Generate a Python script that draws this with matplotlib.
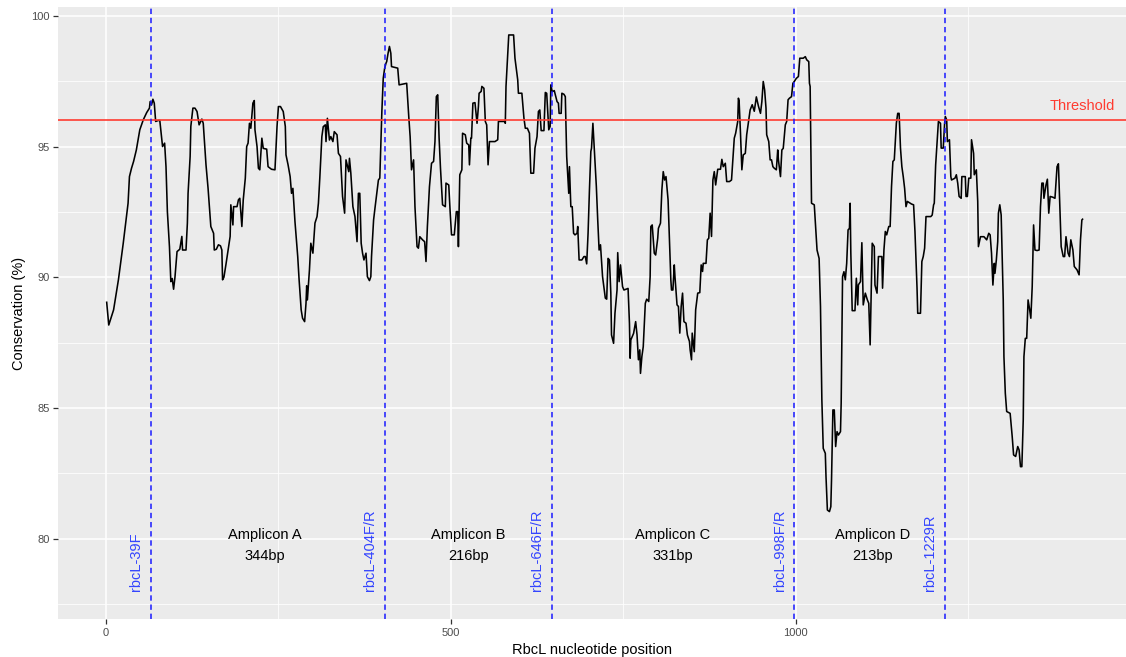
import matplotlib
matplotlib.use("Agg")
import matplotlib.pyplot as plt

plt.rcParams['font.family'] = ['Liberation Sans', 'DejaVu Sans']

# conservation profile along rbcL
position = [
    1, 4, 11, 18, 25, 32, 34, 37, 40, 44, 49, 54, 59, 63, 64, 66, 68, 70, 72, 76,
    78, 81, 82, 85, 87, 89, 92, 94, 96, 98, 100, 103, 107, 110, 111, 116, 118, 119, 122, 123,
    126, 129, 132, 135, 139, 141, 145, 148, 152, 154, 156, 157, 160, 163, 166, 168, 169, 171, 174, 177,
    180, 181, 184, 185, 190, 192, 194, 197, 199, 202, 204, 206, 208, 210, 213, 215, 216, 219, 221, 223,
    226, 228, 233, 235, 240, 245, 248, 250, 253, 257, 260, 261, 264, 267, 269, 271, 274, 278, 280, 283,
    285, 288, 290, 291, 292, 295, 297, 300, 303, 306, 308, 310, 313, 315, 318, 319, 321, 324, 326, 329,
    331, 335, 337, 340, 343, 346, 348, 352, 353, 355, 358, 361, 364, 366, 368, 370, 372, 374, 377, 379,
    382, 384, 385, 388, 390, 395, 397, 400, 402, 404, 406, 407, 409, 411, 413, 414, 423, 425, 436, 439,
    441, 443, 446, 448, 451, 453, 455, 459, 462, 464, 466, 469, 472, 475, 477, 479, 481, 483, 485, 488,
    492, 493, 497, 499, 501, 505, 508, 510, 511, 513, 516, 517, 521, 523, 526, 527, 529, 530, 532, 535,
    538, 540, 541, 544, 545, 548, 550, 552, 554, 556, 564, 568, 569, 578, 579, 580, 582, 584, 591, 593,
    597, 598, 603, 606, 608, 611, 614, 616, 620, 622, 625, 627, 629, 631, 635, 637, 639, 642, 644, 645,
    647, 650, 654, 656, 657, 660, 661, 664, 666, 668, 671, 672, 674, 676, 678, 680, 683, 684, 686, 690,
    693, 695, 697, 699, 701, 703, 704, 706, 708, 711, 713, 715, 717, 720, 724, 726, 728, 730, 732, 733,
    736, 738, 741, 742, 744, 746, 749, 751, 754, 757, 759, 760, 761, 765, 768, 770, 772, 774, 775, 777,
    779, 782, 784, 787, 789, 790, 792, 795, 797, 800, 801, 804, 806, 808, 810, 812, 815, 817, 819, 820,
    822, 824, 825, 828, 830, 832, 834, 836, 838, 841, 843, 846, 847, 849, 850, 853, 855, 858, 861, 863,
    865, 866, 870, 872, 874, 876, 878, 880, 882, 884, 887, 891, 893, 895, 898, 900, 904, 907, 909, 911,
    913, 916, 917, 918, 920, 922, 924, 927, 929, 932, 934, 937, 940, 943, 946, 949, 951, 953, 955, 957,
    958, 961, 963, 965, 967, 969, 972, 974, 975, 978, 980, 982, 985, 987, 989, 991, 994, 996, 998, 1001,
    1004, 1006, 1011, 1014, 1016, 1019, 1020, 1021, 1023, 1027, 1031, 1034, 1036, 1037, 1038, 1040, 1043, 1044, 1046, 1049,
    1051, 1052, 1054, 1056, 1058, 1060, 1062, 1065, 1066, 1068, 1070, 1072, 1074, 1076, 1078, 1079, 1080, 1082, 1086, 1088,
    1090, 1091, 1094, 1096, 1098, 1101, 1104, 1106, 1108, 1111, 1114, 1115, 1118, 1120, 1125, 1126, 1128, 1130, 1132, 1135,
    1137, 1139, 1141, 1143, 1146, 1148, 1150, 1152, 1154, 1156, 1158, 1160, 1162, 1166, 1168, 1171, 1173, 1176, 1177, 1181,
    1183, 1185, 1187, 1189, 1196, 1198, 1200, 1201, 1203, 1207, 1210, 1211, 1214, 1216, 1217, 1219, 1220, 1223, 1225, 1226,
    1231, 1233, 1235, 1237, 1240, 1241, 1246, 1247, 1249, 1251, 1254, 1255, 1258, 1259, 1262, 1264, 1265, 1268, 1273, 1277,
    1280, 1282, 1284, 1286, 1288, 1289, 1291, 1293, 1294, 1296, 1298, 1301, 1302, 1304, 1306, 1311, 1314, 1316, 1319, 1322,
    1324, 1326, 1328, 1330, 1331, 1333, 1335, 1337, 1339, 1341, 1343, 1345, 1347, 1350, 1353, 1355, 1357, 1359, 1360, 1363,
    1365, 1367, 1369, 1373, 1376, 1379, 1381, 1383, 1385, 1388, 1390, 1392, 1395, 1397, 1399, 1402, 1404, 1408, 1411, 1413,
    1415, 1416,
]
conservation = [
    89.04, 88.17, 88.75, 89.90, 91.30, 92.83, 93.85, 94.17, 94.43, 94.87, 95.64, 96.02, 96.30, 96.47, 96.72, 96.59, 96.81, 96.66, 95.96, 96.00,
    96.00, 95.25, 95.00, 95.13, 94.23, 92.51, 91.17, 89.83, 89.95, 89.54, 90.00, 90.98, 91.07, 91.56, 91.04, 91.04, 92.07, 93.21, 94.62, 95.77,
    96.47, 96.47, 96.34, 95.83, 96.05, 95.89, 94.30, 93.40, 91.94, 91.81, 91.68, 91.04, 91.07, 91.24, 91.20, 91.04, 89.90, 90.00, 90.50, 91.04,
    91.56, 92.77, 92.00, 92.70, 92.70, 92.96, 93.02, 91.94, 92.96, 93.79, 95.00, 95.13, 95.89, 95.70, 96.66, 96.76, 95.64, 95.00, 94.17, 94.11,
    95.32, 94.93, 94.90, 94.23, 94.13, 94.11, 95.77, 96.53, 96.53, 96.34, 95.77, 94.68, 94.30, 93.85, 93.21, 93.40, 92.13, 90.79, 89.90, 88.75,
    88.43, 88.30, 89.00, 89.67, 89.13, 90.28, 91.30, 90.92, 92.07, 92.32, 92.83, 93.79, 95.38, 95.76, 95.83, 95.19, 96.08, 95.25, 95.38, 95.19,
    95.57, 95.45, 94.74, 94.62, 93.09, 92.45, 94.49, 94.04, 94.55, 93.98, 92.70, 92.32, 91.36, 93.21, 93.21, 91.30, 90.92, 90.66, 90.92, 90.02,
    89.87, 90.02, 90.79, 92.19, 92.64, 93.72, 93.79, 96.34, 97.61, 97.99, 98.19, 98.25, 98.57, 98.83, 98.57, 98.06, 98.00, 97.36, 97.42, 96.15,
    95.38, 94.11, 94.49, 92.70, 91.17, 91.11, 91.55, 91.43, 91.36, 90.60, 91.94, 93.46, 94.36, 94.43, 95.19, 96.91, 96.98, 95.32, 94.17, 92.77,
    92.70, 93.60, 93.53, 92.51, 91.62, 91.62, 92.51, 92.51, 91.17, 93.92, 94.11, 95.51, 95.45, 95.13, 95.06, 94.30, 95.32, 95.32, 96.66, 96.68,
    95.89, 96.53, 97.04, 97.11, 97.30, 97.23, 95.96, 95.83, 94.30, 95.19, 95.19, 95.26, 95.96, 95.96, 95.89, 97.30, 98.25, 99.27, 99.27, 98.38,
    97.55, 97.04, 97.04, 96.09, 95.70, 95.70, 95.51, 93.98, 93.98, 94.94, 95.38, 96.34, 96.40, 95.61, 95.61, 97.07, 97.04, 95.64, 95.77, 97.36,
    97.10, 97.14, 96.72, 96.66, 96.27, 96.27, 97.04, 97.00, 96.91, 94.62, 93.21, 94.23, 92.70, 92.70, 91.68, 91.62, 91.68, 91.94, 90.66, 90.66,
    90.79, 90.79, 90.51, 91.68, 93.34, 94.81, 94.94, 95.89, 94.94, 93.47, 92.19, 91.04, 91.24, 90.02, 89.20, 89.16, 90.72, 90.66, 89.39, 87.79,
    87.47, 88.62, 89.51, 90.94, 89.83, 90.47, 89.64, 89.51, 89.54, 89.57, 88.24, 86.90, 87.60, 87.85, 88.30, 87.79, 86.84, 87.22, 86.32, 86.96,
    87.34, 89.00, 89.16, 89.07, 90.02, 91.94, 92.00, 90.92, 90.85, 91.49, 91.87, 92.07, 93.34, 94.04, 93.72, 93.85, 92.96, 91.43, 89.90, 89.51,
    89.51, 90.47, 90.02, 88.94, 88.88, 87.86, 88.88, 89.39, 88.30, 88.24, 87.79, 87.54, 87.22, 86.84, 87.86, 87.15, 88.75, 89.39, 89.41, 90.47,
    90.22, 90.53, 90.53, 91.43, 91.49, 92.45, 91.56, 93.72, 94.04, 93.53, 94.13, 94.13, 94.51, 94.23, 94.36, 93.66, 93.66, 93.72, 94.55, 95.32,
    95.51, 95.96, 96.85, 96.75, 95.51, 94.11, 94.68, 94.74, 95.45, 96.02, 96.40, 96.60, 96.35, 96.90, 96.55, 96.27, 96.72, 97.49, 97.17, 96.47,
    95.45, 95.19, 94.49, 94.49, 94.23, 94.17, 94.11, 94.87, 94.49, 93.85, 94.87, 94.93, 95.83, 95.96, 96.79, 96.85, 96.91, 97.42, 97.49, 97.61,
    97.68, 98.38, 98.38, 98.44, 98.32, 98.25, 97.42, 97.30, 92.83, 92.77, 91.04, 90.72, 88.88, 87.22, 85.30, 83.45, 83.26, 82.37, 81.09, 81.03,
    81.22, 82.24, 84.92, 84.92, 83.52, 84.09, 83.96, 84.09, 85.18, 90.02, 90.21, 89.90, 90.53, 91.81, 91.87, 92.83, 90.92, 88.72, 88.72, 89.96,
    88.94, 89.71, 89.83, 91.32, 88.94, 89.39, 89.13, 89.00, 87.41, 91.30, 91.17, 89.70, 89.39, 90.79, 90.79, 89.58, 91.04, 91.75, 91.62, 91.94,
    91.94, 93.47, 94.43, 94.49, 95.89, 96.27, 96.27, 94.94, 94.23, 93.85, 93.40, 92.70, 92.90, 92.83, 92.80, 92.77, 91.75, 89.58, 88.62, 88.62,
    90.60, 90.79, 91.11, 92.32, 92.32, 92.38, 92.77, 92.83, 94.30, 95.96, 95.89, 94.94, 94.94, 95.89, 96.15, 96.02, 95.19, 95.26, 93.85, 93.72,
    93.79, 93.92, 93.60, 93.09, 93.02, 93.85, 93.85, 93.09, 93.09, 93.79, 93.79, 95.26, 94.74, 93.92, 94.11, 92.90, 91.17, 91.55, 91.55, 91.43,
    91.68, 91.62, 90.92, 89.70, 90.53, 90.15, 90.66, 91.36, 92.45, 92.77, 92.38, 89.13, 86.96, 85.56, 84.86, 84.79, 83.90, 83.20, 83.14, 83.52,
    83.39, 82.75, 82.75, 84.54, 86.96, 87.66, 87.66, 89.13, 88.81, 88.43, 89.64, 92.00, 91.04, 91.02, 91.04, 92.70, 93.60, 93.60, 93.02, 93.53,
    93.75, 92.45, 93.09, 93.06, 93.02, 94.23, 94.34, 92.70, 91.17, 90.79, 90.79, 91.55, 90.92, 90.79, 91.43, 91.04, 90.41, 90.28, 90.09, 91.43,
    92.19, 92.22,
]

# primer sites and amplicons
primer_names = ['rbcL-39F', 'rbcL-404F/R', 'rbcL-646F/R', 'rbcL-998F/R', 'rbcL-1229R']
primer_pos = [65, 404, 646, 998, 1216]
amplicon_names = ['Amplicon A', 'Amplicon B', 'Amplicon C', 'Amplicon D']
amplicon_sizes = ['344bp', '216bp', '331bp', '213bp']
amplicon_mid = [230, 525, 822, 1111]
threshold = 96

fig = plt.figure(figsize=(11.26, 6.57), dpi=100)
ax = fig.add_axes([58 / 1126, 1 - 619 / 657, 1 - 58 / 1126, 612 / 657])
ax.set_facecolor('#EBEBEB')
for s in ax.spines.values():
    s.set_visible(False)

ax.set_xlim(-69.6, 1479)
ax.set_ylim(76.92, 100.34)
ax.set_xticks([0, 500, 1000])
ax.set_yticks([80, 85, 90, 95, 100])
ax.set_xticks([250, 750, 1250], minor=True)
ax.set_yticks([77.5, 82.5, 87.5, 92.5, 97.5], minor=True)
ax.grid(which='major', color='white', lw=1.1)
ax.grid(which='minor', color='white', lw=0.55)
ax.set_axisbelow(True)
ax.tick_params(which='major', length=3.7, width=0.9, color='#333333',
               labelsize=8, labelcolor='#4D4D4D', pad=2.5)
ax.tick_params(which='minor', length=0)

ax.plot(position, conservation, color='black', lw=1.15, zorder=3)

ax.axhline(threshold, color='#FF3B30', lw=1.2, zorder=4)
ax.text(1416, threshold + 0.55, 'Threshold', color='#FF3B30', fontsize=10.5,
        ha='center', va='center')

for name, p in zip(primer_names, primer_pos):
    ax.axvline(p, color='#1A1AFF', lw=1.1, ls=(0, (3.5, 2.5)), zorder=4)
    ax.text(p - 21, 78, name, color='#3344FF', fontsize=10.5, rotation=90,
            ha='center', va='bottom')

for name, size, m in zip(amplicon_names, amplicon_sizes, amplicon_mid):
    ax.text(m, 79.74, name + '\n' + size, fontsize=10.5, ha='center',
            va='center', linespacing=1.6)

ax.set_xlabel('RbcL nucleotide position', fontsize=10.5, labelpad=4)
ax.set_ylabel('Conservation (%)', fontsize=10.5, labelpad=3.5)

fig.savefig('out.png', dpi=100)
